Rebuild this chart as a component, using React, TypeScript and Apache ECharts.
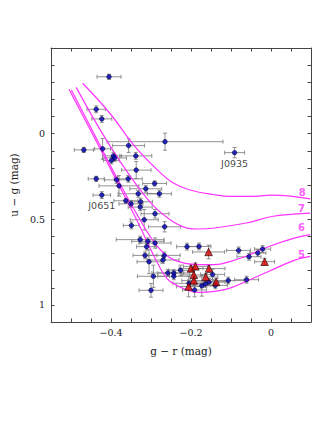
import React, { useEffect, useRef } from 'react';
import * as echarts from 'echarts';

// Blue circles: g-r, u-g, errors
const blueX = [-0.405, -0.437, -0.423, -0.265, -0.468, -0.421, -0.356, -0.338, -0.394, -0.391, -0.399, -0.337, -0.437, -0.386, -0.357, -0.291, -0.380, -0.313, -0.279, -0.332, -0.423, -0.363, -0.350, -0.326, -0.327, -0.290, -0.317, -0.349, -0.266, -0.327, -0.308, -0.290, -0.311, -0.210, -0.315, -0.267, -0.270, -0.305, -0.226, -0.258, -0.243, -0.243, -0.294, -0.300, -0.180, -0.081, -0.021, -0.033, -0.055, -0.146, -0.205, -0.155, -0.164, -0.173, -0.139, -0.107, -0.061, -0.191, -0.091];
const blueY = [-0.332, -0.142, -0.086, 0.047, 0.095, 0.089, 0.070, 0.130, 0.130, 0.142, 0.157, 0.213, 0.264, 0.270, 0.264, 0.291, 0.305, 0.322, 0.351, 0.351, 0.359, 0.392, 0.410, 0.398, 0.429, 0.468, 0.503, 0.536, 0.544, 0.619, 0.629, 0.639, 0.660, 0.660, 0.711, 0.711, 0.738, 0.748, 0.798, 0.814, 0.814, 0.833, 0.833, 0.915, 0.659, 0.682, 0.674, 0.697, 0.719, 0.822, 0.874, 0.866, 0.878, 0.889, 0.886, 0.858, 0.853, 0.913, 0.111];
const blueXErr = [0.030, 0.023, 0.025, 0.145, 0.024, 0.020, 0.040, 0.040, 0.020, 0.030, 0.020, 0.037, 0.020, 0.030, 0.035, 0.030, 0.050, 0.040, 0.030, 0.050, 0.022, 0.030, 0.030, 0.030, 0.030, 0.035, 0.035, 0.020, 0.040, 0.060, 0.040, 0.040, 0.025, 0.026, 0.030, 0.040, 0.040, 0.030, 0.030, 0.040, 0.040, 0.040, 0.040, 0.030, 0.030, 0.030, 0.020, 0.020, 0.030, 0.030, 0.040, 0.040, 0.030, 0.030, 0.030, 0.040, 0.030, 0.030, 0.025];
const blueYErr = [0.015, 0.020, 0.020, 0.050, 0.015, 0.060, 0.040, 0.020, 0.020, 0.020, 0.020, 0.050, 0.015, 0.020, 0.020, 0.015, 0.060, 0.020, 0.020, 0.020, 0.020, 0.015, 0.020, 0.020, 0.020, 0.025, 0.060, 0.020, 0.030, 0.020, 0.020, 0.030, 0.020, 0.020, 0.020, 0.020, 0.020, 0.070, 0.030, 0.020, 0.020, 0.020, 0.065, 0.040, 0.020, 0.020, 0.020, 0.020, 0.020, 0.030, 0.020, 0.020, 0.020, 0.060, 0.020, 0.020, 0.020, 0.040, 0.030];
const blueLabels: Record<number, string> = { 20: 'J0651', 58: 'J0935' };

// Red triangles
const redX = [-0.156, -0.016, -0.200, -0.189, -0.155, -0.193, -0.163, -0.193, -0.137, -0.206];
const redY = [0.691, 0.748, 0.787, 0.775, 0.788, 0.825, 0.837, 0.858, 0.866, 0.893];
const redXErr = [0.040, 0.025, 0.030, 0.030, 0.040, 0.030, 0.030, 0.030, 0.030, 0.030];
const redYErr = [0.040, 0.020, 0.020, 0.020, 0.020, 0.030, 0.020, 0.030, 0.020, 0.060];

// Model tracks (log g = 5,6,7,8)
const track8X = [-0.471, -0.403, -0.340, -0.284, -0.244, -0.205, -0.141, -0.101, -0.053, 0.002, 0.042, 0.098];
const track8Y = [-0.294, -0.119, 0.076, 0.212, 0.289, 0.328, 0.357, 0.367, 0.367, 0.359, 0.363, 0.381];
const track7X = [-0.487, -0.427, -0.363, -0.300, -0.252, -0.212, -0.181, -0.141, -0.062, 0.002, 0.057, 0.098];
const track7Y = [-0.270, -0.022, 0.212, 0.406, 0.503, 0.550, 0.557, 0.551, 0.522, 0.484, 0.470, 0.464];
const track6X = [-0.499, -0.443, -0.387, -0.332, -0.284, -0.244, -0.181, -0.141, -0.101, -0.053, -0.005, 0.058, 0.098];
const track6Y = [-0.255, -0.002, 0.251, 0.484, 0.659, 0.736, 0.765, 0.765, 0.746, 0.707, 0.659, 0.610, 0.590];
const track5X = [-0.505, -0.443, -0.387, -0.332, -0.292, -0.260, -0.236, -0.212, -0.181, -0.141, -0.101, -0.053, -0.005, 0.058, 0.098];
const track5Y = [-0.259, 0.017, 0.270, 0.522, 0.717, 0.847, 0.885, 0.911, 0.927, 0.921, 0.901, 0.853, 0.804, 0.740, 0.717];
const trackNames = ['8', '7', '6', '5'];
const trackLabelX = [0.078, 0.076, 0.076, 0.076];
const trackLabelY = [0.344, 0.439, 0.548, 0.703];

const MAGENTA = '#ff33ff';
const SERIF = 'DejaVu Serif';
const SANS = 'DejaVu Sans';

function fmtX(v: number): string {
  const k = Math.round(v / 0.2);
  if (Math.abs(v - k * 0.2) > 1e-6) return '';
  const r = Math.round(v * 10) / 10;
  if (r === 0) return '0';
  return (r < 0 ? '\u2212' : '') + Math.abs(r).toString();
}
function fmtY(v: number): string {
  const r = Math.round(v * 10) / 10;
  if (Math.abs(v - r) > 1e-6) return '';
  if (r === 0) return '0';
  if (r === 0.5) return '0.5';
  if (r === 1) return '1';
  return '';
}

const zip = (xs: number[], ys: number[]) => xs.map((x, i) => [x, ys[i]]);

export default function App() {
  const ref = useRef<HTMLDivElement>(null);
  useEffect(() => {
    document.body.style.margin = '0';
    const chart = echarts.init(ref.current!, undefined, { renderer: 'svg' });
    const errData = [
      ...blueX.map((x, i) => [x, blueY[i], blueXErr[i], blueYErr[i]]),
      ...redX.map((x, i) => [x, redY[i], redXErr[i], redYErr[i]]),
    ];
    const axisLine = { onZero: false, lineStyle: { color: '#444', width: 1 } };
    const tick = { inside: true, length: 3.5, lineStyle: { color: '#444', width: 1 } };
    const trackSeries = [
      [track8X, track8Y], [track7X, track7Y], [track6X, track6Y], [track5X, track5Y],
    ].map(([xs, ys], k) => ({
      type: 'line', name: 'track' + trackNames[k], data: zip(xs, ys), smooth: 0.4,
      showSymbol: false, symbol: 'none', z: 3,
      lineStyle: { color: MAGENTA, width: 1.2 }, silent: true,
    }));
    chart.setOption({
      animation: false,
      grid: { left: 38, right: 7, top: 48, bottom: 102 },
      xAxis: [
        {
          type: 'value', min: -0.55, max: 0.1, interval: 0.05, position: 'bottom',
          axisLine, axisTick: tick, splitLine: { show: false },
          axisLabel: { formatter: fmtX, fontFamily: SERIF, fontSize: 9.5, color: '#222', margin: 5 },
          name: 'g \u2212 r (mag)', nameLocation: 'middle', nameGap: 23,
          nameTextStyle: { fontFamily: SERIF, fontSize: 10.5, color: '#222' },
        },
        {
          type: 'value', min: -0.55, max: 0.1, interval: 0.05, position: 'top',
          axisLine, axisTick: tick, axisLabel: { show: false }, splitLine: { show: false },
        },
      ],
      yAxis: [
        {
          type: 'value', min: -0.5, max: 1.1, interval: 0.1, inverse: true, position: 'left',
          axisLine, axisTick: tick, splitLine: { show: false },
          axisLabel: { formatter: fmtY, fontFamily: SERIF, fontSize: 9.5, color: '#222', margin: 6 },
          name: 'u \u2212 g (mag)', nameLocation: 'middle', nameGap: 22, nameRotate: 90,
          nameTextStyle: { fontFamily: SERIF, fontSize: 10.5, color: '#222' },
        },
        {
          type: 'value', min: -0.5, max: 1.1, interval: 0.1, inverse: true, position: 'right',
          axisLine, axisTick: tick, axisLabel: { show: false }, splitLine: { show: false },
        },
      ],
      series: [
        {
          type: 'custom', name: 'errors', data: errData, z: 2, silent: true,
          encode: { x: 0, y: 1 },
          renderItem: (_p: any, api: any) => {
            const x = api.value(0), y = api.value(1), ex = api.value(2), ey = api.value(3);
            const l = api.coord([x - ex, y]);
            const r = api.coord([x + ex, y]);
            const t = api.coord([x, y - ey]);
            const b = api.coord([x, y + ey]);
            const c = 2;
            const style = { stroke: '#777', lineWidth: 0.8 };
            const ln = (x1: number, y1: number, x2: number, y2: number) => ({ type: 'line', shape: { x1, y1, x2, y2 }, style });
            return {
              type: 'group',
              children: [
                ln(l[0], l[1], r[0], r[1]),
                ln(l[0], l[1] - c, l[0], l[1] + c),
                ln(r[0], r[1] - c, r[0], r[1] + c),
                ln(t[0], t[1], b[0], b[1]),
                ln(t[0] - c, t[1], t[0] + c, t[1]),
                ln(b[0] - c, b[1], b[0] + c, b[1]),
              ],
            };
          },
        },
        ...trackSeries,
        {
          type: 'scatter', name: 'trackLabels', z: 4, silent: true,
          data: trackLabelX.map((x, i) => ({ value: [x, trackLabelY[i]], name: trackNames[i] })),
          symbolSize: 0,
          label: { show: true, position: 'inside', formatter: '{b}', color: MAGENTA, fontFamily: SANS, fontSize: 10, fontWeight: 'bold' },
        },
        {
          type: 'scatter', name: 'blue', z: 5, symbol: 'circle', symbolSize: 4.6,
          itemStyle: { color: '#0000b8', borderColor: '#000030', borderWidth: 0.7 },
          data: blueX.map((x, i) => {
            const item: any = { value: [x, blueY[i]] };
            if (blueLabels[i]) {
              item.name = blueLabels[i];
              item.label = { show: true, position: 'bottom', distance: 3, formatter: '{b}', color: '#111', fontFamily: SANS, fontSize: 9.5 };
            }
            return item;
          }),
        },
        {
          type: 'scatter', name: 'red', z: 6, symbol: 'triangle', symbolSize: 7.5,
          itemStyle: { color: '#e00000', borderColor: '#200000', borderWidth: 0.8 },
          data: zip(redX, redY),
        },
      ],
    });
    return () => chart.dispose();
  }, []);
  return <div ref={ref} style={{ width: 318, height: 424 }} />;
}
